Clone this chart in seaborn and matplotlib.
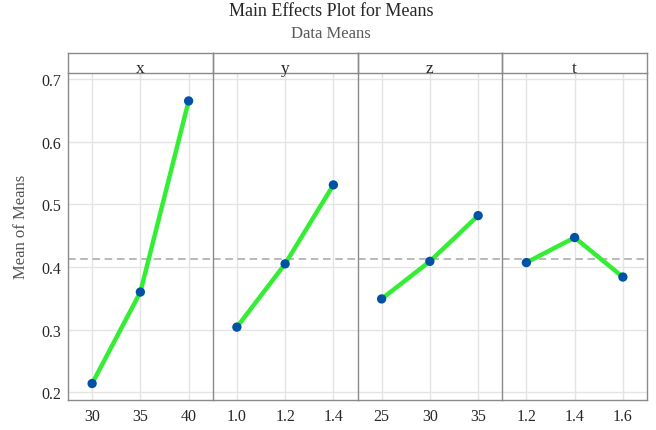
import matplotlib
matplotlib.use("Agg")
import matplotlib.pyplot as plt
import seaborn as sns
import pandas as pd

# Factor names and their level labels
factors = ["x", "y", "z", "t"]
x_levels = ["30", "35", "40"]
y_levels = ["1.0", "1.2", "1.4"]
z_levels = ["25", "30", "35"]
t_levels = ["1.2", "1.4", "1.6"]

# Mean response at each level
x_means = [0.214, 0.360, 0.665]
y_means = [0.304, 0.405, 0.531]
z_means = [0.349, 0.409, 0.482]
t_means = [0.407, 0.447, 0.384]

# Overall mean of the data
grand_mean = 0.413

y_ticks = [0.2, 0.3, 0.4, 0.5, 0.6, 0.7]
y_tick_labels = ["0.2", "0.3", "0.4", "0.5", "0.6", "0.7"]

levels = [x_levels, y_levels, z_levels, t_levels]
means = [x_means, y_means, z_means, t_means]

sns.set_style("white")
plt.rcParams["font.family"] = ["Liberation Serif", "DejaVu Serif"]

line_green = "#33ee33"
point_blue = "#0052a5"
border_gray = "#8a8a8a"
grid_gray = "#e4e4e4"
text_dark = "#262626"

W, H = 656, 431
fig = plt.figure(figsize=(W / 100, H / 100), dpi=100)
gs = fig.add_gridspec(
    2, 4,
    left=68 / W, right=647 / W, top=1 - 54 / H, bottom=1 - 401 / H,
    height_ratios=[20, 327], hspace=0, wspace=0,
)

first = None
for i, (name, lv, mv) in enumerate(zip(factors, levels, means)):
    # Panel
    ax = fig.add_subplot(gs[1, i], sharey=first)
    if first is None:
        first = ax
    df = pd.DataFrame({"level": lv, "mean": mv})
    ax.grid(True, color=grid_gray, lw=1.0, zorder=0)
    ax.set_axisbelow(True)
    ax.axhline(grand_mean, color="#a6a6a6", lw=1.1, ls=(0, (5, 3)), zorder=1)
    sns.lineplot(data=df, x="level", y="mean", ax=ax, color=line_green,
                 lw=3.2, sort=False, zorder=2)
    sns.scatterplot(data=df, x="level", y="mean", ax=ax, color=point_blue,
                    s=45, edgecolor="none", zorder=3)
    ax.set_xlim(-0.5, len(lv) - 0.5)
    ax.set_xlabel("")
    ax.set_ylabel("")
    ax.tick_params(axis="x", length=3, width=0.8, color=border_gray,
                   labelsize=11.5, labelcolor=text_dark, pad=3)
    for sp in ax.spines.values():
        sp.set_color(border_gray)
        sp.set_linewidth(1.0)
    ax.spines["top"].set_visible(False)
    if i == 0:
        ax.set_yticks(y_ticks)
        ax.set_yticklabels(y_tick_labels)
        ax.tick_params(axis="y", length=3, width=0.8, color=border_gray,
                       labelsize=11.5, labelcolor=text_dark, pad=2)
    else:
        ax.tick_params(axis="y", left=False, labelleft=False)
    if i != len(factors) - 1:
        ax.spines["right"].set_visible(False)

    # Strip header, drawn above the panel so its label may overhang
    sax = fig.add_subplot(gs[0, i])
    sax.set_zorder(5)
    sax.patch.set_alpha(0)
    sax.set_xticks([])
    sax.set_yticks([])
    for sp in sax.spines.values():
        sp.set_color(border_gray)
        sp.set_linewidth(1.0)
    sax.text(0.5, 0.03, name, ha="center", va="baseline", fontsize=12.5,
             color=text_dark, transform=sax.transAxes, clip_on=False)

first.set_ylim(0.1877, 0.7096)

fig.text(331 / W, 1 - 12 / H, "Main Effects Plot for Means", ha="center",
         va="center", fontsize=13, color=text_dark)
fig.text(331 / W, 1 - 34 / H, "Data Means", ha="center", va="center",
         fontsize=12, color="#595959")
fig.text(21 / W, 1 - 227 / H, "Mean of Means", ha="center", va="center",
         rotation=90, fontsize=12, color="#555555")

fig.savefig("out.png", dpi=100, facecolor="white")
